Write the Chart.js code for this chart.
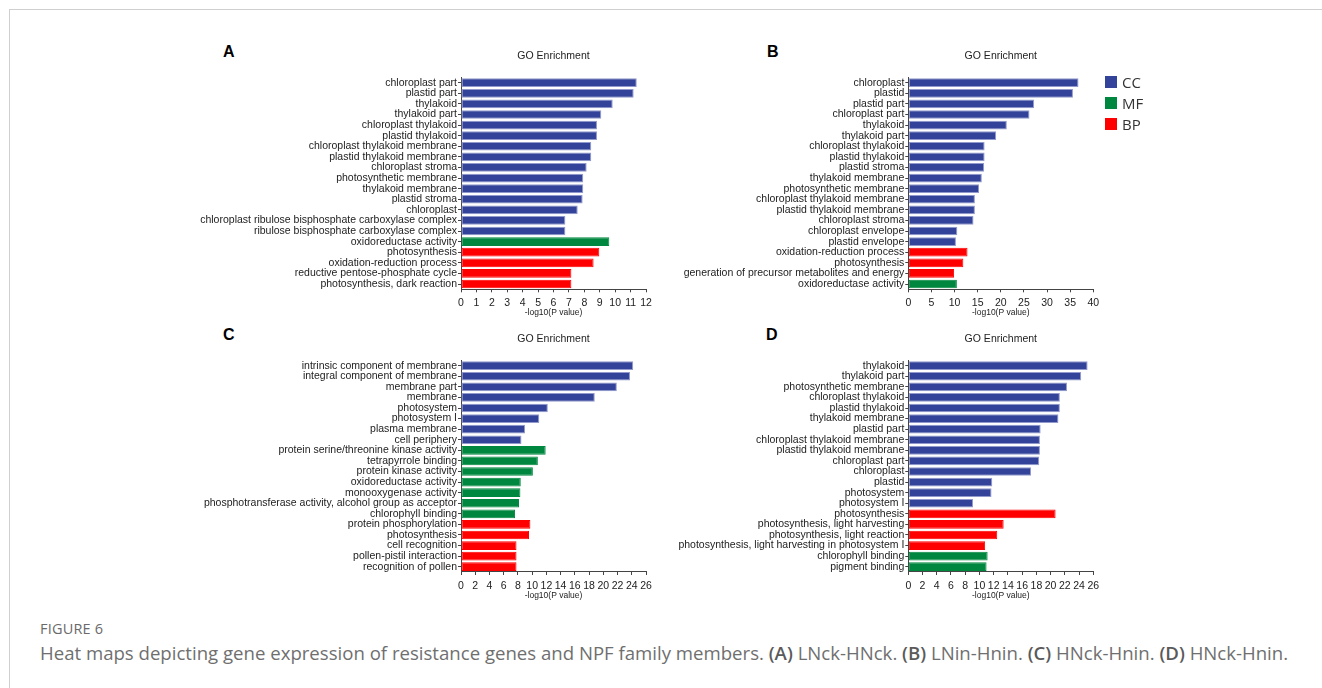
<!DOCTYPE html>
<html>
<head>
<meta charset="utf-8">
<script src="https://cdn.jsdelivr.net/npm/chart.js@4.4.0/dist/chart.umd.min.js"></script>
<style>
  html, body { margin: 0; padding: 0; background: #fff; }
  body { width: 1322px; height: 688px; position: relative; overflow: hidden; }
  #frame { position: absolute; left: 9px; top: 9px; right: 0; bottom: 0;
           border-top: 1px solid #cfcfcf; border-left: 1px solid #cfcfcf; }
  canvas { position: absolute; }
  .tag { position: absolute; font: bold 16px "Liberation Sans", Arial, sans-serif; color: #000; line-height: 16px; }
  .key { position: absolute; left: 1105px; height: 14px; font: 15px "Open Sans", sans-serif; color: #333; line-height: 14px; }
  .key span { display: inline-block; width: 12px; height: 12px; vertical-align: top; margin: 1px 5px 0 0; }
  #fig { position: absolute; left: 40px; top: 619px; font: 14.5px "Open Sans", sans-serif; color: #6a6a6a; letter-spacing: 0.2px; }
  #cap { position: absolute; left: 40px; top: 640px; font: 18.6px "Open Sans", sans-serif; color: #6f6f6f; white-space: nowrap; }
  #cap b { font-weight: 600; color: #5a5a5a; }
</style>
</head>
<body>
<div id="frame"></div>

<div class="tag" style="left:223px;top:44px">A</div>
<div class="tag" style="left:767px;top:44px">B</div>
<div class="tag" style="left:223px;top:327px">C</div>
<div class="tag" style="left:766px;top:327px">D</div>

<canvas id="chartA"></canvas>
<canvas id="chartB"></canvas>
<canvas id="chartC"></canvas>
<canvas id="chartD"></canvas>

<div class="key" style="top:75px"><span style="background:#33439a"></span>CC</div>
<div class="key" style="top:96px"><span style="background:#00873f"></span>MF</div>
<div class="key" style="top:117px"><span style="background:#ff0000"></span>BP</div>

<div id="fig">FIGURE 6</div>
<div id="cap">Heat maps depicting gene expression of resistance genes and NPF family members. <b>(A)</b> LNck-HNck. <b>(B)</b> LNin-Hnin. <b>(C)</b> HNck-Hnin. <b>(D)</b> HNck-Hnin.</div>

<script>
'use strict';

// A : LNck-HNck
var a_terms = ['chloroplast part', 'plastid part', 'thylakoid', 'thylakoid part', 'chloroplast thylakoid',
  'plastid thylakoid', 'chloroplast thylakoid membrane', 'plastid thylakoid membrane', 'chloroplast stroma',
  'photosynthetic membrane', 'thylakoid membrane', 'plastid stroma', 'chloroplast',
  'chloroplast ribulose bisphosphate carboxylase complex', 'ribulose bisphosphate carboxylase complex',
  'oxidoreductase activity', 'photosynthesis', 'oxidation-reduction process',
  'reductive pentose-phosphate cycle', 'photosynthesis, dark reaction'];
var a_value = [11.4, 11.2, 9.84, 9.1, 8.82, 8.82, 8.45, 8.45, 8.15, 7.93, 7.93, 7.89, 7.57, 6.77, 6.77,
  9.62, 8.97, 8.6, 7.16, 7.16];
var a_group = ['CC', 'CC', 'CC', 'CC', 'CC', 'CC', 'CC', 'CC', 'CC', 'CC', 'CC', 'CC', 'CC', 'CC', 'CC',
  'MF', 'BP', 'BP', 'BP', 'BP'];

// B : LNin-Hnin
var b_terms = ['chloroplast', 'plastid', 'plastid part', 'chloroplast part', 'thylakoid', 'thylakoid part',
  'chloroplast thylakoid', 'plastid thylakoid', 'plastid stroma', 'thylakoid membrane',
  'photosynthetic membrane', 'chloroplast thylakoid membrane', 'plastid thylakoid membrane',
  'chloroplast stroma', 'chloroplast envelope', 'plastid envelope', 'oxidation-reduction process',
  'photosynthesis', 'generation of precursor metabolites and energy', 'oxidoreductase activity'];
var b_value = [36.8, 35.6, 27.2, 26.2, 21.3, 19.0, 16.5, 16.5, 16.4, 15.9, 15.3, 14.4, 14.4, 14.1, 10.6, 10.3,
  12.8, 11.9, 9.9, 10.5];
var b_group = ['CC', 'CC', 'CC', 'CC', 'CC', 'CC', 'CC', 'CC', 'CC', 'CC', 'CC', 'CC', 'CC', 'CC', 'CC', 'CC',
  'BP', 'BP', 'BP', 'MF'];

// C : HNck-Hnin
var c_terms = ['intrinsic component of membrane', 'integral component of membrane', 'membrane part', 'membrane',
  'photosystem', 'photosystem I', 'plasma membrane', 'cell periphery',
  'protein serine/threonine kinase activity', 'tetrapyrrole binding', 'protein kinase activity',
  'oxidoreductase activity', 'monooxygenase activity', 'phosphotransferase activity, alcohol group as acceptor',
  'chlorophyll binding', 'protein phosphorylation', 'photosynthesis', 'cell recognition',
  'pollen-pistil interaction', 'recognition of pollen'];
var c_value = [24.2, 23.75, 21.9, 18.8, 12.2, 11.0, 9.0, 8.5, 11.9, 10.8, 10.1, 8.4, 8.35, 8.15, 7.6,
  9.75, 9.56, 7.8, 7.8, 7.8];
var c_group = ['CC', 'CC', 'CC', 'CC', 'CC', 'CC', 'CC', 'CC', 'MF', 'MF', 'MF', 'MF', 'MF', 'MF', 'MF',
  'BP', 'BP', 'BP', 'BP', 'BP'];

// D : HNck-Hnin
var d_terms = ['thylakoid', 'thylakoid part', 'photosynthetic membrane', 'chloroplast thylakoid',
  'plastid thylakoid', 'thylakoid membrane', 'plastid part', 'chloroplast thylakoid membrane',
  'plastid thylakoid membrane', 'chloroplast part', 'chloroplast', 'plastid', 'photosystem', 'photosystem I',
  'photosynthesis', 'photosynthesis, light harvesting', 'photosynthesis, light reaction',
  'photosynthesis, light harvesting in photosystem I', 'chlorophyll binding', 'pigment binding'];
var d_value = [25.2, 24.3, 22.3, 21.3, 21.3, 21.1, 18.6, 18.5, 18.5, 18.4, 17.25, 11.8, 11.7, 9.1,
  20.7, 13.4, 12.5, 10.8, 11.15, 11.0];
var d_group = ['CC', 'CC', 'CC', 'CC', 'CC', 'CC', 'CC', 'CC', 'CC', 'CC', 'CC', 'CC', 'CC', 'CC',
  'BP', 'BP', 'BP', 'BP', 'MF', 'MF'];

// x axis range per panel
var a_axis = [12, 1];
var b_axis = [40, 5];
var c_axis = [26, 2];
var d_axis = [26, 2];

var fill = { CC: '#33439a', MF: '#00873f', BP: '#ff0000' };
var edge = { CC: '#9299cc', MF: '#00873f', BP: '#ff0000' };
var axisColor = '#444';
var labelFont = { family: '"Liberation Sans", Arial, sans-serif', size: 10.5 };

// page box of each canvas and of its plot area
function drawPanel(id, terms, values, groups, axis, box) {
	var cv = document.getElementById(id);
	cv.width = box.w;
	cv.height = box.h;
	cv.style.left = box.x + 'px';
	cv.style.top = box.y + 'px';

	var half = (box.lastBar - box.firstBar) / (terms.length - 1) / 2;
	var areaTop = box.firstBar - half - box.y;
	var areaBottom = box.lastBar + half - box.y;
	var titleMid = box.title - box.y;

	return new Chart(cv, {
		type: 'bar',
		data: {
			labels: terms,
			datasets: [{
				data: values,
				backgroundColor: groups.map(function(g) { return fill[g]; }),
				borderColor: groups.map(function(g) { return edge[g]; }),
				borderWidth: 1,
				borderSkipped: false,
				barPercentage: 0.82,
				categoryPercentage: 1
			}]
		},
		options: {
			indexAxis: 'y',
			responsive: false,
			animation: false,
			devicePixelRatio: 1,
			layout: { padding: { left: 0, top: 0, bottom: 0, right: box.x + box.w - box.plotRight } },
			plugins: {
				legend: { display: false },
				tooltip: { enabled: false },
				title: {
					display: true,
					text: 'GO Enrichment',
					fullSize: false,
					color: '#222',
					font: { family: labelFont.family, size: 10.5, weight: 'normal' },
					padding: { top: titleMid - 6.3, bottom: areaTop - titleMid - 6.3 }
				}
			},
			scales: {
				x: {
					min: 0,
					max: axis[0],
					ticks: { stepSize: axis[1], autoSkip: false, maxRotation: 0, padding: 4.5, color: '#222', font: labelFont },
					grid: { display: true, drawOnChartArea: false, tickLength: 3, color: axisColor },
					border: { display: true, color: axisColor },
					title: {
						display: true,
						text: '-log10(P value)',
						color: '#222',
						font: { family: labelFont.family, size: 8.5 },
						padding: { top: 0, bottom: 2.6 }
					},
					afterFit: function(s) { s.height = box.h - areaBottom; }
				},
				y: {
					ticks: { autoSkip: false, padding: 1, color: '#222', font: labelFont },
					grid: { display: true, drawOnChartArea: false, offset: false, tickLength: 3, color: axisColor },
					border: { display: true, color: axisColor },
					afterFit: function(s) { s.width = box.plotLeft - box.x; }
				}
			}
		}
	});
}

drawPanel('chartA', a_terms, a_value, a_group, a_axis,
	{ x: 180, y: 40, w: 480, h: 280, plotLeft: 461, plotRight: 646, firstBar: 82.7, lastBar: 284, title: 56 });
drawPanel('chartB', b_terms, b_value, b_group, b_axis,
	{ x: 655, y: 40, w: 450, h: 280, plotLeft: 908.3, plotRight: 1093.3, firstBar: 82.7, lastBar: 284, title: 56 });
drawPanel('chartC', c_terms, c_value, c_group, c_axis,
	{ x: 180, y: 323, w: 480, h: 280, plotLeft: 461, plotRight: 646, firstBar: 365.7, lastBar: 566.7, title: 339 });
drawPanel('chartD', d_terms, d_value, d_group, d_axis,
	{ x: 655, y: 323, w: 450, h: 280, plotLeft: 908.3, plotRight: 1093.3, firstBar: 365.7, lastBar: 566.7, title: 339 });
</script>
</body>
</html>
